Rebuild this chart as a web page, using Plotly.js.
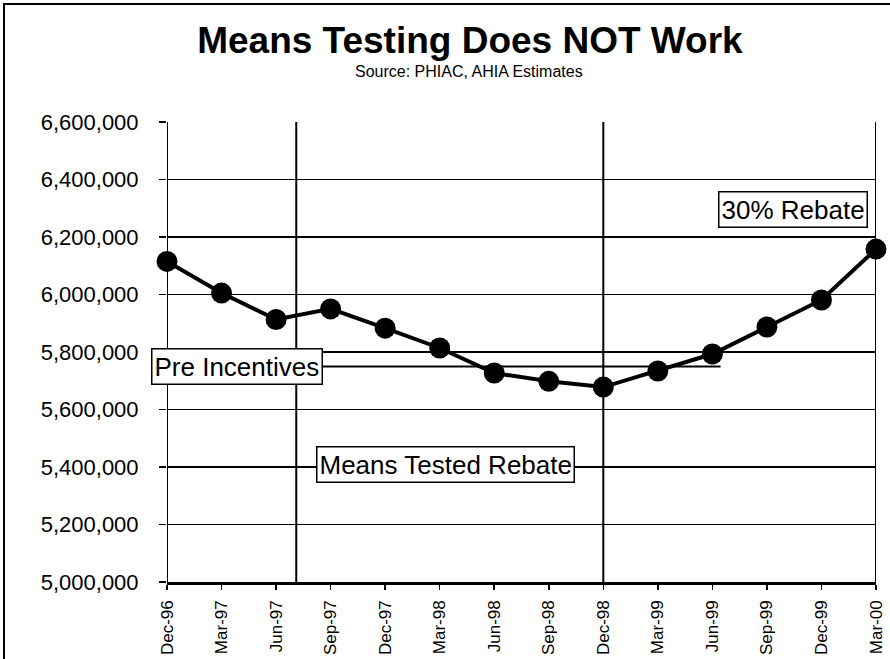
<!DOCTYPE html>
<html>
<head>
<meta charset="utf-8">
<script src="https://cdn.plot.ly/plotly-3.0.1.min.js"></script>
<style>
  html, body { margin: 0; padding: 0; background: #fff; }
  #chart { width: 890px; height: 659px; position: relative; }
  #frame { position: absolute; left: 3px; top: 3px; width: 900px; height: 700px;
           border-left: 2px solid #000; border-top: 2px solid #000; pointer-events: none; z-index: 10; }
</style>
</head>
<body>
<div id="chart"></div>
<div id="frame"></div>
<script>
const categories = ["Dec-96","Mar-97","Jun-97","Sep-97","Dec-97","Mar-98","Jun-98",
                    "Sep-98","Dec-98","Mar-99","Jun-99","Sep-99","Dec-99","Mar-00"];
const members = [6115000, 6005000, 5913000, 5950000, 5883000, 5814000, 5727000,
                 5698000, 5678000, 5734000, 5793000, 5887000, 5981000, 6158000];
const yTicks = [5000000, 5200000, 5400000, 5600000, 5800000, 6000000, 6200000, 6400000, 6600000];
const yTickText = ["5,000,000","5,200,000","5,400,000","5,600,000","5,800,000","6,000,000","6,200,000","6,400,000","6,600,000"];
const preIncentiveLevel = 5750000;
const periodBreaks = [0, 2.37, 8, 13];
const labels = [
  {text: "Pre Incentives", x: 1.28, y: 5750000},
  {text: "Means Tested Rebate", x: 5.1, y: 5410000},
  {text: "30% Rebate", x: 11.47, y: 6294000}
];

const FONT = "Liberation Sans, Arial, sans-serif";

const trace = {
  type: "scatter",
  mode: "lines+markers",
  x: categories.map((c, i) => i),
  y: members,
  line: {color: "#000", width: 4},
  marker: {color: "#000", size: 21},
  hoverinfo: "y",
  cliponaxis: false
};

const shapes = [];
periodBreaks.forEach(xv => {
  shapes.push({type: "line", xref: "x", yref: "paper", x0: xv, x1: xv, y0: 0, y1: 1,
               line: {color: "#000", width: 2}, layer: "below"});
});
shapes.push({type: "line", xref: "x", yref: "y", x0: 0, x1: 10.15,
             y0: preIncentiveLevel, y1: preIncentiveLevel,
             line: {color: "#000", width: 2}, layer: "below"});

const annotations = labels.map(l => ({
  text: l.text, x: l.x, y: l.y, xref: "x", yref: "y", showarrow: false,
  font: {family: FONT, size: 26, color: "#000"},
  bgcolor: "#fff", bordercolor: "#000", borderwidth: 1.5, borderpad: 2
}));
annotations.push({
  text: "Source: PHIAC, AHIA Estimates", xref: "paper", yref: "paper",
  x: 0.426, y: 1.1087, showarrow: false, yanchor: "middle",
  font: {family: FONT, size: 16, color: "#000"}
});

const layout = {
  width: 890, height: 659,
  margin: {l: 167, r: 14, t: 122, b: 77},
  paper_bgcolor: "#fff", plot_bgcolor: "#fff",
  showlegend: false,
  title: {
    text: "<b>Means Testing Does NOT Work</b>",
    xref: "container", yref: "container", x: 0.528, y: 1 - 40/659,
    xanchor: "center", yanchor: "middle",
    font: {family: FONT, size: 37, color: "#000"}
  },
  xaxis: {
    range: [0, 13],
    tickmode: "array",
    tickvals: categories.map((c, i) => i),
    ticktext: categories,
    tickangle: -90,
    ticks: "outside", ticklen: 5, tickwidth: 1.5, tickcolor: "#000",
    showgrid: false, zeroline: false,
    showline: true, linecolor: "#000", linewidth: 2.5,
    tickfont: {family: FONT, size: 17, color: "#000"},
    ticklabelstandoff: 4,
    fixedrange: true
  },
  yaxis: {
    range: [5000000, 6600000],
    tickmode: "array",
    tickvals: yTicks,
    ticktext: yTickText,
    ticks: "outside", ticklen: 7, tickwidth: 1.5, tickcolor: "#000",
    showgrid: true, gridcolor: "#000", gridwidth: 1.5,
    zeroline: false,
    showline: false,
    tickfont: {family: FONT, size: 22, color: "#000"},
    ticklabelstandoff: 16,
    fixedrange: true
  },
  shapes: shapes,
  annotations: annotations
};

Plotly.newPlot("chart", [trace], layout, {displayModeBar: false, staticPlot: true});
</script>
</body>
</html>
